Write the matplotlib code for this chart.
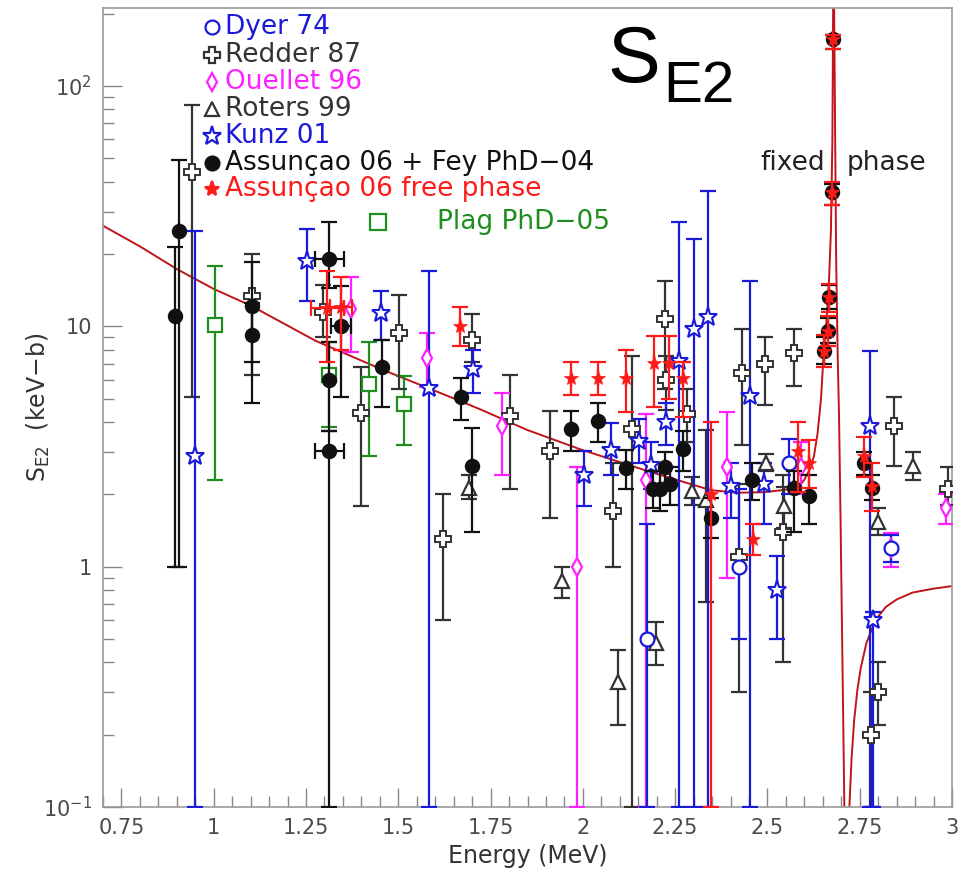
import numpy as np
import matplotlib.pyplot as plt
from matplotlib.ticker import FixedLocator, LogLocator, NullFormatter, FuncFormatter

# values: energy (MeV), S_E2 (keV b), lower and upper end of the error bar
dyer_e  = [2.175, 2.424, 2.559, 2.835]
dyer_s  = [0.50, 1.00, 2.70, 1.20]
dyer_lo = [0.10, 0.50, 2.00, 1.05]
dyer_hi = [1.50, 2.10, 3.40, 1.35]

redder_e  = [0.940, 1.105, 1.295, 1.398, 1.502, 1.622, 1.700, 1.803, 1.911, 2.082, 2.132, 2.222, 2.225,
             2.283, 2.424, 2.432, 2.493, 2.541, 2.573, 2.780, 2.800, 2.844, 2.990]
redder_s  = [44.0, 13.4, 11.5, 4.37, 9.4, 1.30, 8.8, 4.23, 3.02, 1.70, 3.75, 10.7, 6.0,
             4.3, 1.10, 6.4, 6.94, 1.40, 7.77, 0.20, 0.30, 3.85, 2.10]
redder_lo = [5.06, 6.3, 9.0, 1.78, 5.47, 0.60, 7.1, 2.1, 1.59, 1.00, 0.10, 5.5, 4.5,
             3.3, 0.30, 3.2, 4.7, 0.40, 5.64, 0.10, 0.22, 2.62, 1.80]
redder_hi = [83.0, 20.0, 14.8, 6.8, 13.5, 2.00, 11.2, 6.3, 4.44, 2.70, 7.5, 15.5, 7.5,
             5.5, 2.20, 9.7, 9.0, 2.40, 9.7, 0.30, 0.40, 5.06, 2.60]

ouellet_e  = [1.371, 1.577, 1.780, 1.983, 2.171, 2.390, 2.590, 2.835, 2.985]
ouellet_s  = [11.8, 7.4, 3.85, 1.00, 2.30, 2.60, 2.60, 1.20, 1.75]
ouellet_lo = [7.8, 5.6, 2.40, 0.10, 0.10, 0.90, 2.00, 1.00, 1.50]
ouellet_hi = [16.0, 9.4, 5.30, 2.60, 4.30, 4.40, 3.30, 1.38, 2.00]

roters_e  = [1.692, 1.943, 2.094, 2.198, 2.295, 2.333, 2.496, 2.546, 2.800, 2.893]
roters_s  = [2.13, 0.87, 0.33, 0.48, 2.06, 1.90, 2.70, 1.78, 1.54, 2.62]
roters_lo = [1.92, 0.74, 0.22, 0.39, 1.80, 0.71, 2.50, 1.45, 1.35, 2.30]
roters_hi = [2.40, 1.00, 0.45, 0.59, 2.35, 3.70, 2.95, 2.15, 1.75, 3.00]

kunz_e  = [0.949, 1.254, 1.453, 1.583, 1.703, 2.004, 2.076, 2.153, 2.184, 2.225, 2.261, 2.300,
           2.340, 2.400, 2.453, 2.490, 2.527, 2.778, 2.785]
kunz_s  = [2.88, 18.7, 11.4, 5.55, 6.62, 2.40, 3.07, 3.33, 2.66, 4.00, 7.17, 9.7,
           10.9, 2.16, 5.11, 2.20, 0.80, 3.85, 0.60]
kunz_lo = [0.10, 12.8, 8.8, 0.10, 5.3, 1.79, 2.41, 2.70, 2.10, 3.20, 0.10, 0.10,
           0.10, 1.60, 0.10, 1.50, 0.50, 0.10, 0.10]
kunz_hi = [25.0, 25.4, 14.0, 17.0, 8.0, 3.02, 3.96, 4.10, 3.30, 4.80, 27.2, 23.0,
           36.6, 2.70, 15.4, 2.70, 1.11, 7.9, 0.65]

# Assuncao 06 + Fey PhD-04 (fixed phase)
fey_e  = [0.894, 0.905, 1.103, 1.103, 1.313, 1.344, 1.313, 1.313, 1.457, 1.670, 1.699, 1.967, 2.042,
          2.118, 2.190, 2.210, 2.222, 2.235, 2.270, 2.347, 2.457, 2.572, 2.612,
          2.654, 2.663, 2.668, 2.675, 2.678, 2.762, 2.783]
fey_s  = [11.0, 25.0, 12.2, 9.2, 19.0, 10.0, 6.0, 3.02, 6.75, 5.06, 2.62, 3.73, 4.03,
          2.58, 2.10, 2.10, 2.60, 2.20, 3.09, 1.59, 2.30, 2.13, 1.96,
          7.9, 9.56, 13.2, 36.1, 157.0, 2.70, 2.13]
fey_lo = [1.0, 1.0, 7.07, 4.8, 14.5, 5.06, 3.65, 0.10, 4.6, 4.06, 1.40, 3.02, 3.29,
          2.11, 1.75, 1.70, 2.20, 1.80, 2.50, 1.32, 1.90, 1.40, 1.50,
          7.0, 8.5, 11.8, 32.0, 143.0, 2.40, 1.90]
fey_hi = [21.3, 49.0, 18.5, 12.5, 27.2, 14.7, 8.6, 3.65, 8.8, 6.07, 3.79, 4.44, 4.80,
          3.07, 2.50, 2.50, 3.00, 2.60, 3.66, 1.93, 2.71, 2.50, 2.40,
          9.0, 10.8, 14.8, 39.0, 163.0, 3.00, 2.40]
fey_xerr = [0, 0, 0, 0, 0.04, 0.027, 0, 0.04, 0, 0, 0, 0, 0,
            0, 0, 0, 0, 0, 0, 0, 0, 0, 0,
            0, 0, 0, 0, 0, 0, 0]

# Assuncao 06 free phase
free_e  = [1.308, 1.344, 1.668, 1.967, 2.040, 2.118, 2.193, 2.234, 2.270, 2.347, 2.460, 2.582, 2.613,
           2.654, 2.663, 2.668, 2.675, 2.678, 2.762, 2.783]
free_s  = [11.96, 12.0, 10.0, 6.1, 6.1, 6.1, 7.06, 7.06, 6.1, 2.0, 1.30, 3.02, 2.70,
           7.9, 9.56, 13.2, 36.1, 157.0, 2.88, 2.16]
free_lo = [7.07, 8.0, 8.3, 5.2, 5.2, 4.4, 4.6, 5.0, 4.2, 0.10, 1.12, 2.04, 2.13,
           6.8, 8.3, 11.5, 32.0, 143.0, 2.35, 1.70]
free_hi = [17.0, 16.0, 12.0, 7.07, 7.07, 8.0, 9.1, 9.1, 7.07, 4.0, 1.50, 4.00, 3.35,
           9.2, 11.0, 15.0, 40.0, 163.0, 3.45, 2.70]
free_xerr = [0.045, 0.03] + [0] * 18

plag_e  = [1.003, 1.313, 1.421, 1.516]
plag_s  = [10.1, 6.25, 5.73, 4.73]
plag_lo = [2.29, 3.8, 2.88, 3.22]
plag_hi = [17.8, 8.6, 8.6, 6.2]

# fit curve, points
fit_e = [0.70, 0.80, 0.90, 1.00, 1.10, 1.276, 1.457, 1.656, 1.724, 1.85, 1.995, 2.175, 2.347, 2.42,
         2.49, 2.55, 2.59, 2.60, 2.615, 2.626, 2.636, 2.645, 2.653, 2.660, 2.667, 2.672, 2.676, 2.679,
         2.682, 2.686, 2.690, 2.694, 2.698, 2.702, 2.705, 2.708, 2.712, 2.717, 2.722, 2.728, 2.735,
         2.744, 2.753, 2.768, 2.785, 2.80, 2.821, 2.85, 2.893, 2.95, 3.00]
fit_s = [26.2, 21.5, 17.3, 14.3, 12.2, 8.7, 6.6, 4.97, 4.5, 3.7, 3.07, 2.5, 2.08, 2.03,
         2.04, 2.09, 2.2, 2.3, 2.55, 2.88, 3.6, 4.97, 8.0, 10.5, 15.7, 25.0, 60.0, 400.0,
         120.0, 20.0, 8.0, 4.2, 1.6, 0.55, 0.25, 0.11, 0.03, 0.03, 0.10, 0.16, 0.23,
         0.31, 0.38, 0.48, 0.56, 0.62, 0.68, 0.73, 0.78, 0.81, 0.83]

blue = '#1a1ad8'
red = '#ff1a1a'
mag = '#ff20ff'
green = '#1e8f1e'
dark = '#333333'
black = '#111111'

fig = plt.figure(figsize=(9.58, 8.77), dpi=100)
ax = fig.add_axes([103/958, 1-807/877, 849/958, 799/877])


def draw(e, s, lo, hi, color, marker, ms, mfc, xerr=None, z=3, mew=1.6):
    s = np.array(s)
    yerr = [s - np.array(lo), np.array(hi) - s]
    ax.errorbar(e, s, yerr=yerr, xerr=xerr, fmt='none', ecolor=color, elinewidth=1.6,
                capsize=6, capthick=1.6, zorder=z)
    ax.plot(e, s, ls='none', marker=marker, ms=ms, mfc=mfc, mec=color, mew=mew, zorder=z + 0.5)


ax.plot(fit_e, fit_s, color='#c0141a', lw=1.4, zorder=2)

draw(plag_e, plag_s, plag_lo, plag_hi, green, 's', 10, 'white')
draw(redder_e, redder_s, redder_lo, redder_hi, dark, 'P', 11, 'white', mew=1.4)
draw(roters_e, roters_s, roters_lo, roters_hi, dark, '^', 10, 'white')
draw(ouellet_e, ouellet_s, ouellet_lo, ouellet_hi, mag, 'd', 9, 'white')
draw(dyer_e, dyer_s, dyer_lo, dyer_hi, blue, 'o', 10, 'white')
draw(kunz_e, kunz_s, kunz_lo, kunz_hi, blue, '*', 14, 'white', mew=1.5)
draw(fey_e, fey_s, fey_lo, fey_hi, black, 'o', 9.5, black, xerr=fey_xerr, z=4)
draw(free_e, free_s, free_lo, free_hi, red, '*', 10, red, xerr=free_xerr, z=5, mew=0.5)

ax.set_xlim(0.70, 3.0)
ax.set_yscale('log')
ax.set_ylim(0.1, 211)

ax.xaxis.set_major_locator(FixedLocator([0.75, 1, 1.25, 1.5, 1.75, 2, 2.25, 2.5, 2.75, 3]))
ax.xaxis.set_minor_locator(FixedLocator(np.arange(0.70, 3.001, 0.05)))
ax.xaxis.set_major_formatter(FuncFormatter(lambda v, p: '%g' % v))
ax.yaxis.set_major_locator(FixedLocator([0.1, 1, 10, 100]))
ax.yaxis.set_minor_locator(LogLocator(base=10, subs=np.arange(2, 10)))
ax.yaxis.set_minor_formatter(NullFormatter())
ylabels = {0.1: '10$^{-1}$', 1: '1', 10: '10', 100: '10$^{2}$'}
ax.yaxis.set_major_formatter(FuncFormatter(lambda v, p: ylabels.get(round(v, 3), '')))

ax.tick_params(which='both', direction='in', color='#888888', width=1, top=False, right=False,
               labelcolor='#4a4a4a', labelsize=15)
ax.tick_params(which='major', length=14, pad=8)
ax.tick_params(which='minor', length=8)
for sp in ax.spines.values():
    sp.set_color('#9a9a9a')
    sp.set_linewidth(1.2)

ax.set_xlabel('Energy (MeV)', fontsize=17, color='#333333', labelpad=4)
ax.set_ylabel(r'S$_{\mathregular{E2}}$  (keV−b)', fontsize=17, color='#333333')
ax.yaxis.set_label_coords(-0.06, 0.5)

# legend written by hand, as in the original
def axpos(x, y):
    return (x - 103) / 849, (807 - y) / 799

rows = [('Dyer 74', blue, 'o', 'white', blue, 10, 27),
        ('Redder 87', dark, 'P', 'white', dark, 11, 55),
        ('Ouellet 96', mag, 'd', 'white', mag, 9, 82),
        ('Roters 99', dark, '^', 'white', dark, 10, 109),
        ('Kunz 01', blue, '*', 'white', blue, 14, 136),
        ('Assunçao 06 + Fey PhD−04', black, 'o', black, black, 10, 163),
        ('Assunçao 06 free phase', red, '*', red, red, 11, 189)]
for label, col, mk, fc, ec, ms, yy in rows:
    mx, my = axpos(212, yy)
    ax.plot([mx], [my], marker=mk, ms=ms, mfc=fc, mec=ec, mew=1.6, transform=ax.transAxes,
            clip_on=False, zorder=6)
    tx, ty = axpos(225, yy)
    ax.text(tx, ty, label, color=col, fontsize=19, va='center', ha='left', transform=ax.transAxes)

mx, my = axpos(378, 222)
ax.plot([mx], [my], marker='s', ms=12, mfc='white', mec=green, mew=1.6, transform=ax.transAxes)
tx, ty = axpos(437, 222)
ax.text(tx, ty, 'Plag PhD−05', color=green, fontsize=19, va='center', transform=ax.transAxes)

tx, ty = axpos(760, 163)
ax.text(tx, ty, 'fixed', color='#222222', fontsize=19, va='center', transform=ax.transAxes)
tx, ty = axpos(847, 163)
ax.text(tx, ty, 'phase', color='#222222', fontsize=19, va='center', transform=ax.transAxes)

fig.text(607/958, 1 - 82/877, 'S', fontsize=57, family='Liberation Sans', va='baseline', color='black')
fig.text(663/958, 1 - 102/877, 'E2', fontsize=42, family='Liberation Sans', va='baseline', color='black')

fig.savefig('out.png', dpi=100)
